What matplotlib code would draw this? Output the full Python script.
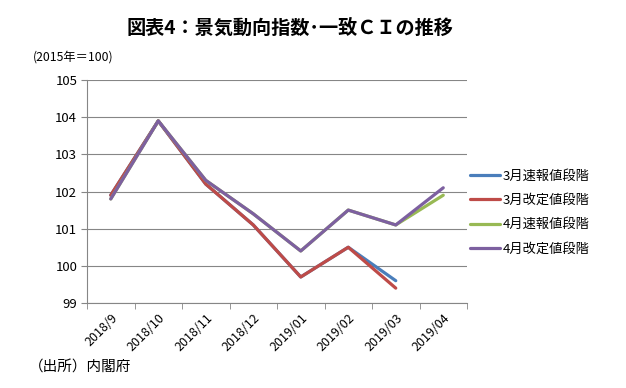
import matplotlib
matplotlib.use("Agg")
import matplotlib.pyplot as plt
import numpy as np

plt.rcParams['font.family'] = ['Noto Sans CJK JP', 'DejaVu Sans']

categories = ["2018/9", "2018/10", "2018/11", "2018/12", "2019/01", "2019/02", "2019/03", "2019/04"]
mar_prelim = [101.9, 103.9, 102.2, 101.1, 99.7, 100.5, 99.6]
mar_revised = [101.9, 103.9, 102.2, 101.1, 99.7, 100.5, 99.4]
apr_prelim = [101.8, 103.9, 102.3, 101.4, 100.4, 101.5, 101.1, 101.9]
apr_revised = [101.8, 103.9, 102.3, 101.4, 100.4, 101.5, 101.1, 102.1]
series_names = ["3月速報値段階", "3月改定値段階", "4月速報値段階", "4月改定値段階"]
colors = ["#4A7EBB", "#BE4B48", "#98B954", "#7D60A0"]

fig = plt.figure(figsize=(6.26, 3.88), dpi=100)
ax = fig.add_axes([87/626, 1-303/388, (467-87)/626, (303-80)/388])

x = np.arange(len(categories))
data = [mar_prelim, mar_revised, apr_prelim, apr_revised]
lines = []
for vals, name, c in zip(data, series_names, colors):
    l, = ax.plot(x[:len(vals)], vals, color=c, lw=2.3, label=name, solid_capstyle='round')
    lines.append(l)

ax.set_xlim(-0.5, len(categories) - 0.5)
ax.set_ylim(99, 105)
ax.set_yticks(np.arange(99, 106, 1))
ax.yaxis.grid(True, color="#868686", lw=0.8)
ax.set_axisbelow(True)

ax.set_xticks(x)
ax.set_xticklabels(categories, rotation=45, ha='right', rotation_mode='anchor', fontsize=9)
ax.set_xticks(np.arange(-0.5, len(categories), 1), minor=True)
ax.tick_params(axis='x', which='major', length=0, pad=6)
ax.tick_params(axis='x', which='minor', length=4, color="#868686")
ax.tick_params(axis='y', length=4, color="#868686", labelsize=9.5, pad=3)

for s in ['top', 'right']:
    ax.spines[s].set_visible(False)
for s in ['left', 'bottom']:
    ax.spines[s].set_color("#868686")

leg = fig.legend(handles=lines, labels=series_names, loc='upper left',
                 bbox_to_anchor=(458/626, 1-158/388), frameon=False,
                 fontsize=9.5, handlelength=2.3, handletextpad=0.2, labelspacing=0.85)

fig.text(290/626, 1-28/388, "図表4：景気動向指数･一致ＣＩの推移", ha='center', va='center',
         fontsize=13.8, fontweight='bold')
fig.text(33/626, 1-57/388, "(2015年＝100)", ha='left', va='center', fontsize=8.8)
fig.text(29/626, 1-368/388, "（出所）内閣府", ha='left', va='center', fontsize=10.5)

fig.savefig("out.png", dpi=100)
